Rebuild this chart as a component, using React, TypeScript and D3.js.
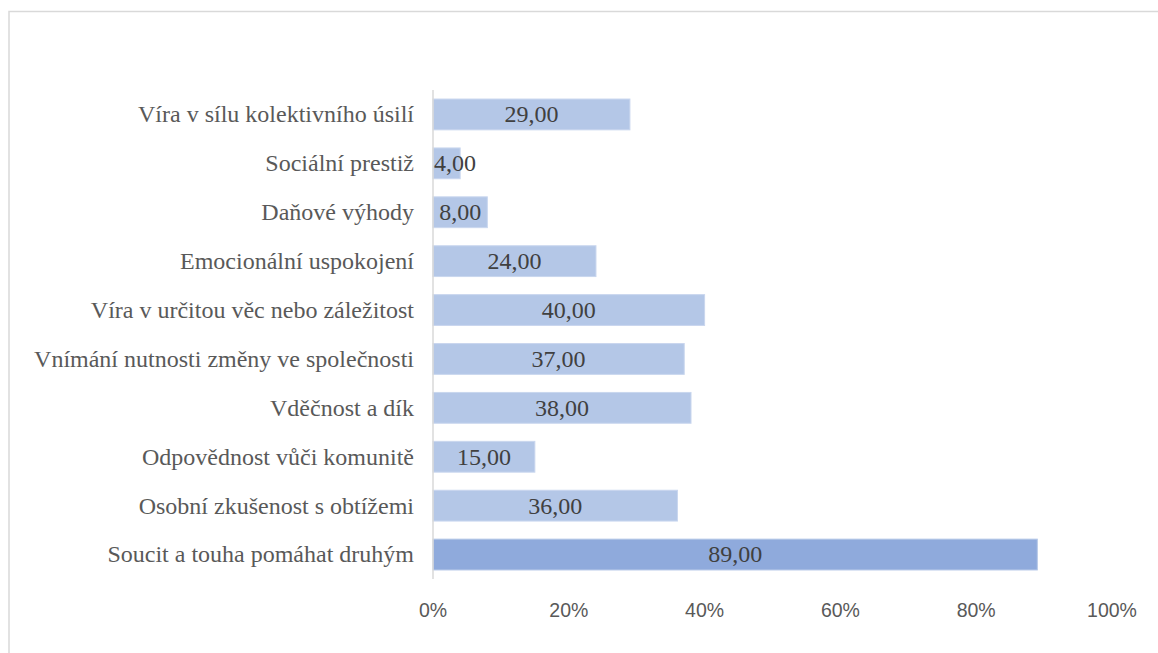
import React, { useEffect, useRef } from "react";
import * as d3 from "d3";

const categories = [
  "Víra v sílu kolektivního úsilí",
  "Sociální prestiž",
  "Daňové výhody",
  "Emocionální uspokojení",
  "Víra v určitou věc nebo záležitost",
  "Vnímání nutnosti změny ve společnosti",
  "Vděčnost a dík",
  "Odpovědnost vůči komunitě",
  "Osobní zkušenost s obtížemi",
  "Soucit a touha pomáhat druhým",
];
const values = [29, 4, 8, 24, 40, 37, 38, 15, 36, 89];
const highlighted = [false, false, false, false, false, false, false, false, false, true];
const xTicks = [0, 20, 40, 60, 80, 100];

export default function App() {
  const ref = useRef<SVGSVGElement>(null);
  useEffect(() => {
    const svg = d3.select(ref.current);
    svg.selectAll("*").remove();
    const W = 1158, H = 653;
    const left = 433, right = 1112, top = 90, bottom = 579;
    const x = d3.scaleLinear().domain([0, 100]).range([left, right]);
    const y = d3.scaleBand<string>().domain(categories).range([top, bottom]).paddingInner(0.37).paddingOuter(0.185);

    svg.append("rect").attr("x", 9).attr("y", 11.5).attr("width", W + 20).attr("height", H + 20)
      .attr("fill", "white").attr("stroke", "#d9d9d9").attr("stroke-width", 1.5);

    const g = svg.append("g");
    g.selectAll("rect.bar").data(categories).enter().append("rect")
      .attr("class", "bar")
      .attr("x", x(0))
      .attr("y", (d) => y(d)!)
      .attr("width", (d, i) => x(values[i]) - x(0))
      .attr("height", y.bandwidth())
      .attr("fill", (d, i) => (highlighted[i] ? "#8faadc" : "#b4c7e7"))
      .attr("stroke", (d, i) => (highlighted[i] ? "#b4c7e7" : "#c9d6ee"))
      .attr("stroke-width", 1);

    // axis line
    g.append("line").attr("x1", x(0)).attr("x2", x(0)).attr("y1", top).attr("y2", bottom)
      .attr("stroke", "#d9d9d9").attr("stroke-width", 1.5);

    const serif = "'Liberation Serif', 'Times New Roman', Times, serif";

    // category labels
    g.selectAll("text.cat").data(categories).enter().append("text")
      .attr("class", "cat")
      .attr("x", 414)
      .attr("y", (d) => y(d)! + y.bandwidth() / 2)
      .attr("dy", "0.33em")
      .attr("text-anchor", "end")
      .attr("font-family", serif)
      .attr("font-size", 24)
      .attr("fill", "#595959")
      .text((d) => d);

    // data labels
    const vals = g.selectAll("text.val").data(categories).enter().append("text")
      .attr("class", "val")
      .attr("y", (d) => y(d)! + y.bandwidth() / 2)
      .attr("dy", "0.33em")
      .attr("text-anchor", "middle")
      .attr("font-family", serif)
      .attr("font-size", 24)
      .attr("fill", "#404040")
      .text((d, i) => d3.format(".2f")(values[i]).replace(".", ","));
    vals.attr("x", function (d, i) {
      const w = (this as SVGTextElement).getComputedTextLength();
      const c = (x(0) + x(values[i])) / 2;
      return Math.max(c, x(0) + w / 2 + 1);
    });

    // x tick labels
    g.selectAll("text.tick").data(xTicks).enter().append("text")
      .attr("class", "tick")
      .attr("x", (d) => x(d))
      .attr("y", 610)
      .attr("dy", "0.35em")
      .attr("text-anchor", "middle")
      .attr("font-family", "'Liberation Sans', Arial, sans-serif")
      .attr("font-size", 19.5)
      .attr("fill", "#595959")
      .text((d) => `${d}%`);
  }, []);
  return (
    <svg ref={ref} width={1158} height={653}
      style={{ position: "absolute", left: 0, top: 0, display: "block" }} />
  );
}
